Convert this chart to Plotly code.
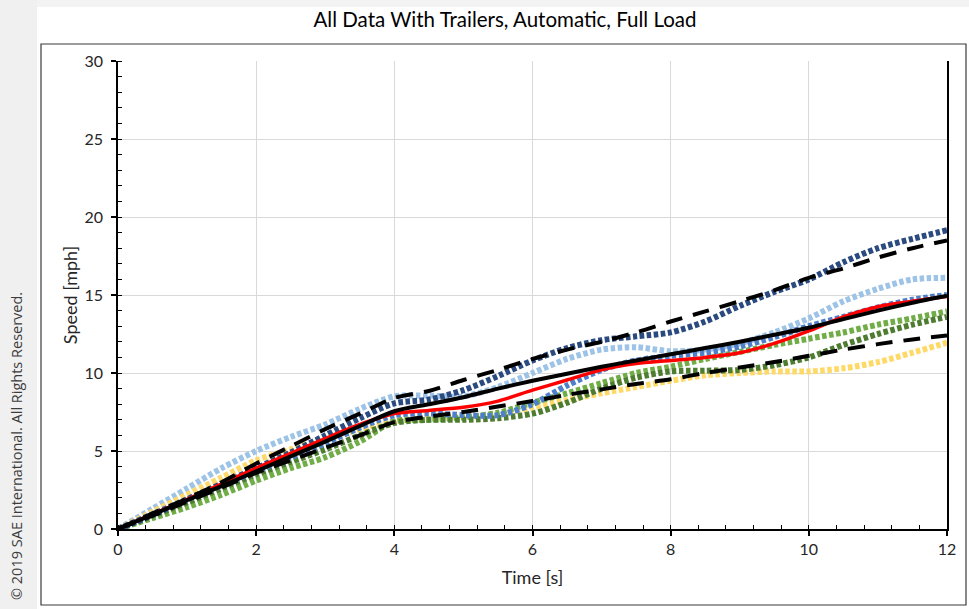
import plotly.graph_objects as go

# ---- data (speed in mph, every 0.5 s) ----
time_s = [0, 0.5, 1, 1.5, 2, 2.5, 3, 3.5, 4, 4.5, 5, 5.5, 6, 6.5, 7, 7.5, 8,
          8.5, 9, 9.5, 10, 10.5, 11, 11.5, 12]

navy = [0, 0.9, 1.9, 2.9, 3.9, 4.9, 6.0, 7.1, 8.05, 8.3, 8.9, 9.8, 10.8, 11.6,
        12.1, 12.35, 12.6, 13.3, 14.3, 15.2, 16.0, 17.1, 18.0, 18.6, 19.15]
light_blue = [0, 1.3, 2.6, 3.9, 5.0, 5.9, 6.7, 7.7, 8.5, 8.55, 8.5, 9.1, 10.0,
              10.9, 11.5, 11.65, 11.4, 11.5, 11.9, 12.6, 13.5, 14.6, 15.4, 16.0, 16.1]
mid_blue = [0, 0.95, 1.9, 2.8, 3.7, 4.6, 5.5, 6.5, 7.3, 7.4, 7.3, 7.3, 8.0,
            9.2, 10.2, 10.8, 11.1, 11.3, 11.7, 12.3, 13.0, 13.6, 14.2, 14.7, 15.0]
yellow = [0, 1.1, 2.2, 3.3, 4.4, 5.1, 5.8, 6.4, 6.9, 7.1, 7.2, 7.35, 7.8,
          8.27, 8.7, 9.1, 9.5, 9.85, 10.0, 10.1, 10.1, 10.3, 10.7, 11.3, 11.95]
light_green = [0, 0.7, 1.4, 2.2, 3.1, 3.9, 4.6, 5.6, 6.9, 7.0, 7.15, 7.45, 8.1,
               8.7, 9.35, 10.0, 10.4, 10.9, 11.35, 11.8, 12.2, 12.6, 13.1, 13.5, 13.95]
dark_green = [0, 0.85, 1.7, 2.6, 3.5, 4.3, 5.1, 6.0, 6.8, 7.0, 7.0, 7.1, 7.4,
              8.1, 9.0, 9.7, 10.1, 10.15, 10.2, 10.5, 11.0, 11.8, 12.5, 13.1, 13.6]
red_run = [0, 0.95, 1.9, 2.9, 3.9, 4.85, 5.8, 6.7, 7.4, 7.6, 7.8, 8.2, 8.9,
           9.55, 10.2, 10.6, 10.8, 11.0, 11.3, 11.9, 12.7, 13.6, 14.25, 14.6, 14.9]
mean_line = [0, 0.92, 1.85, 2.75, 3.7, 4.65, 5.6, 6.6, 7.55, 8.0, 8.45, 9.0, 9.5,
             9.95, 10.4, 10.8, 11.2, 11.6, 12.0, 12.45, 12.9, 13.45, 14.0, 14.5, 14.95]
upper_band = [0, 1.0, 1.95, 3.0, 4.2, 5.3, 6.4, 7.4, 8.4, 8.85, 9.55, 10.2, 10.9,
              11.5, 12.0, 12.6, 13.3, 13.95, 14.6, 15.3, 16.1, 16.7, 17.4, 18.0, 18.5]
lower_band = [0, 0.85, 1.75, 2.65, 3.6, 4.4, 5.2, 6.0, 6.85, 7.2, 7.5, 7.85, 8.2,
              8.6, 8.95, 9.3, 9.6, 10.0, 10.35, 10.7, 11.1, 11.5, 11.85, 12.15, 12.4]

x_ticks = [0, 2, 4, 6, 8, 10, 12]
y_ticks = [0, 5, 10, 15, 20, 25, 30]

TITLE = "All Data With Trailers, Automatic, Full Load"
COPYRIGHT = "© 2019 SAE International. All Rights Reserved."

FONT = "Lato"

fig = go.Figure()

dotted = [
    (light_blue, "#9DC3E6"),
    (yellow, "#FFD966"),
    (light_green, "#70AD47"),
    (dark_green, "#4E7D31"),
    (mid_blue, "#4F7FC9"),
    (navy, "#2A4A80"),
]
for ys, col in dotted:
    fig.add_trace(go.Scatter(
        x=time_s, y=ys, mode="lines",
        line=dict(color=col, width=6, dash="4.5px,2.5px", shape="spline", smoothing=0.8),
        hoverinfo="skip", showlegend=False))

fig.add_trace(go.Scatter(x=time_s, y=red_run, mode="lines",
                         line=dict(color="#FF0000", width=3.5, shape="spline", smoothing=0.8),
                         showlegend=False))
fig.add_trace(go.Scatter(x=time_s, y=mean_line, mode="lines",
                         line=dict(color="#000000", width=4, shape="spline", smoothing=0.8),
                         showlegend=False))
for ys in (upper_band, lower_band):
    fig.add_trace(go.Scatter(x=time_s, y=ys, mode="lines",
                             line=dict(color="#000000", width=4, dash="17px,11px",
                                       shape="spline", smoothing=0.8),
                             showlegend=False))

# geometry helpers (pixel -> paper)
L, R, T, B = 118, 947, 61, 529
W, H = R - L, B - T


def px(x):
    return (x - L) / W


def py(y):
    return (B - y) / H


shapes = [
    # left grey band
    dict(type="rect", xref="paper", yref="paper", x0=px(0), x1=px(37), y0=py(609), y1=py(0),
         fillcolor="#F0F0F0", line=dict(width=0), layer="below"),
    # top grey band
    dict(type="rect", xref="paper", yref="paper", x0=px(37), x1=px(969), y0=py(7), y1=py(0),
         fillcolor="#F3F3F3", line=dict(width=0), layer="below"),
    # chart frame
    dict(type="rect", xref="paper", yref="paper", x0=px(41), x1=px(966), y0=py(605), y1=py(44),
         fillcolor="rgba(0,0,0,0)", line=dict(color="#3A3A3A", width=1.2), layer="below"),
]

fig.update_layout(
    width=969, height=609,
    margin=dict(l=L, r=969 - R, t=T, b=609 - B),
    paper_bgcolor="white", plot_bgcolor="white",
    font=dict(family=FONT, color="#000000"),
    title=dict(text=TITLE, x=505 / 969, xanchor="center", xref="container",
               y=1 - 20 / 609, yanchor="middle", yref="container",
               font=dict(family=FONT, size=20.5, color="#000000")),
    shapes=shapes,
    annotations=[dict(text=COPYRIGHT, xref="paper", yref="paper", x=px(16), y=py(446),
                      xanchor="center", yanchor="middle",
                      textangle=-90, showarrow=False,
                      font=dict(family="Open Sans", size=14.5, color="#3C3C3C"))],
    showlegend=False,
)

fig.update_xaxes(
    range=[0, 12], tickvals=x_ticks, ticktext=[str(v) for v in x_ticks],
    showgrid=True, gridcolor="#D9D9D9", gridwidth=1, zeroline=False,
    showline=True, linecolor="#000000", linewidth=1.5,
    ticks="outside", ticklen=5, tickcolor="#000000", tickwidth=1.5,
    minor=dict(dtick=0.4, tick0=0, ticks="inside", ticklen=4, tickcolor="#000000",
               tickwidth=1, showgrid=False),
    tickfont=dict(family=FONT, size=16, color="#262626"),
    title=dict(text="Time [s]", font=dict(family=FONT, size=18, color="#262626"), standoff=14),
    mirror=False,
)
fig.update_yaxes(
    range=[0, 30], tickvals=y_ticks, ticktext=[str(v) for v in y_ticks],
    showgrid=True, gridcolor="#D9D9D9", gridwidth=1, zeroline=False,
    showline=True, linecolor="#000000", linewidth=1.5, mirror=True,
    ticks="outside", ticklen=5, tickcolor="#000000", tickwidth=1.5,
    ticklabelstandoff=5,
    minor=dict(dtick=1, tick0=0, ticks="inside", ticklen=4, tickcolor="#000000",
               tickwidth=1, showgrid=False),
    tickfont=dict(family=FONT, size=16, color="#262626"),
    title=dict(text="Speed [mph]", font=dict(family=FONT, size=18, color="#262626"), standoff=2),
)

fig.write_html("out.html")
